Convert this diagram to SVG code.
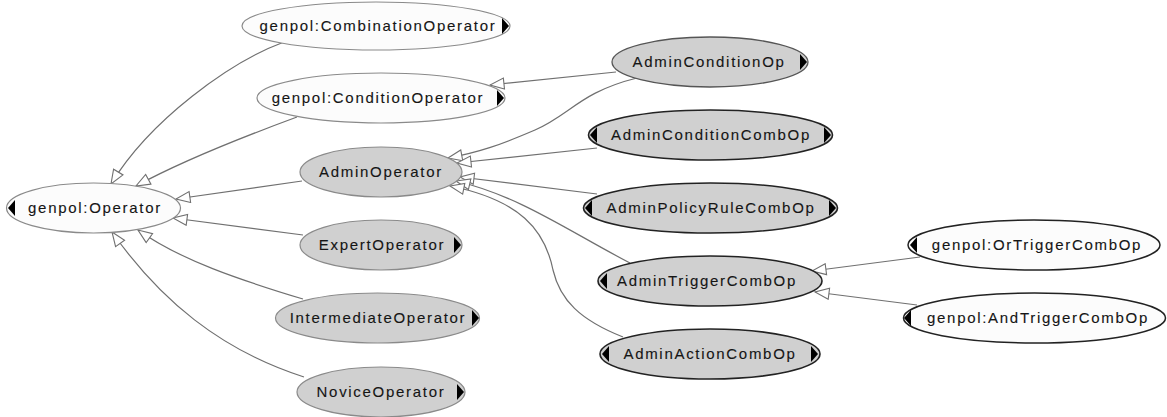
<svg xmlns="http://www.w3.org/2000/svg" width="1167" height="417" viewBox="0 0 1167 417">
<style>
  .lt { fill: #fcfcfc; stroke: #8a8a8a; stroke-width: 1.2; }
  .ltd { fill: #fcfcfc; stroke: #222; stroke-width: 1.5; }
  .gr { fill: #d0d0d0; stroke: #8a8a8a; stroke-width: 1.2; }
  .grm { fill: #d0d0d0; stroke: #555; stroke-width: 1.3; }
  .grd { fill: #d0d0d0; stroke: #222; stroke-width: 1.6; }
  .tri { fill: #000; }
  text { font-family: "Liberation Sans", Arial, sans-serif; font-size: 15px; letter-spacing: 1.7px; fill: #151515; stroke: #151515; stroke-width: 0.12; text-anchor: middle; }
  .edge { fill: none; stroke: #707070; stroke-width: 1.2; marker-end: url(#hollow); }
</style>
<defs>
  <marker id="hollow" markerUnits="userSpaceOnUse" markerWidth="17" markerHeight="13" refX="15" refY="6.5" orient="auto" viewBox="0 0 17 13">
    <path d="M1,1 L15,6.5 L1,12 z" fill="#fff" stroke="#707070" stroke-width="1.1"/>
  </marker>
</defs>
<rect width="1167" height="417" fill="#fff"/>
<g id="connectors">
  <path class="edge" d="M284,42 C 230,62 150,120 111,184"/>
  <path class="edge" d="M297,117 C 240,138 180,162 136,186"/>
  <path class="edge" d="M302,181 L176,199"/>
  <path class="edge" d="M303,235 L173,218"/>
  <path class="edge" d="M303,299 C 240,280 180,260 138,230"/>
  <path class="edge" d="M304,377 C 220,350 160,300 112,232"/>
  <path class="edge" d="M616,72 L490,85"/>
  <path class="edge" d="M637,78 C 580,92 570,115 535,130 S 480,152 448,158"/>
  <path class="edge" d="M597,148 L457,163"/>
  <path class="edge" d="M597,194 L460,177"/>
  <path class="edge" d="M630,263 C 570,232 520,196 456,181"/>
  <path class="edge" d="M623,337 C 580,320 560,300 553,270 C 545,230 520,200 450,186"/>
  <path class="edge" d="M920,257 L812,271"/>
  <path class="edge" d="M917,305 L815,292"/>
</g>
<g id="n-combination">
  <ellipse class="lt" cx="376" cy="26" rx="134" ry="24"/>
  <path class="tri" d="M502,18 L509,26 L502,34 z"/>
  <text x="378" y="31">genpol:CombinationOperator</text>
</g>
<g id="n-condition">
  <ellipse class="lt" cx="381" cy="98" rx="124" ry="25"/>
  <path class="tri" d="M497,90 L504,98 L497,106 z"/>
  <text x="378" y="103">genpol:ConditionOperator</text>
</g>
<g id="n-operator">
  <ellipse class="lt" cx="93.5" cy="208" rx="87" ry="25"/>
  <path class="tri" d="M15,200 L8,208 L15,216 z"/>
  <text x="95" y="213">genpol:Operator</text>
</g>
<g id="n-adminoperator">
  <ellipse class="gr" cx="381" cy="172" rx="81" ry="25"/>
  <text x="381" y="177">AdminOperator</text>
</g>
<g id="n-expert">
  <ellipse class="gr" cx="381" cy="245" rx="81" ry="25"/>
  <path class="tri" d="M454,237 L461,245 L454,253 z"/>
  <text x="382" y="250">ExpertOperator</text>
</g>
<g id="n-intermediate">
  <ellipse class="gr" cx="377.5" cy="318" rx="102" ry="25"/>
  <path class="tri" d="M472,310 L479,318 L472,326 z"/>
  <text x="378" y="323">IntermediateOperator</text>
</g>
<g id="n-novice">
  <ellipse class="gr" cx="381" cy="392" rx="84" ry="25"/>
  <path class="tri" d="M457,384 L464,392 L457,400 z"/>
  <text x="381" y="397">NoviceOperator</text>
</g>
<g id="n-adminconditionop">
  <ellipse class="grm" cx="710" cy="62" rx="98" ry="25"/>
  <path class="tri" d="M800,54 L807,62 L800,70 z"/>
  <text x="709" y="67">AdminConditionOp</text>
</g>
<g id="n-adminconditioncombop">
  <ellipse class="grd" cx="710.5" cy="135" rx="122" ry="25"/>
  <path class="tri" d="M597,127 L590,135 L597,143 z"/>
  <path class="tri" d="M824,127 L831,135 L824,143 z"/>
  <text x="711" y="140">AdminConditionCombOp</text>
</g>
<g id="n-adminpolicyrulecombop">
  <ellipse class="grd" cx="710.5" cy="208" rx="127" ry="25"/>
  <path class="tri" d="M592,200 L585,208 L592,216 z"/>
  <path class="tri" d="M829,200 L836,208 L829,216 z"/>
  <text x="711" y="213">AdminPolicyRuleCombOp</text>
</g>
<g id="n-admintriggercombop">
  <ellipse class="grd" cx="710" cy="281" rx="112" ry="25"/>
  <path class="tri" d="M607,273 L600,281 L607,289 z"/>
  <text x="707" y="286">AdminTriggerCombOp</text>
</g>
<g id="n-adminactioncombop">
  <ellipse class="grd" cx="710" cy="354" rx="110" ry="25"/>
  <path class="tri" d="M609,346 L602,354 L609,362 z"/>
  <path class="tri" d="M811,346 L818,354 L811,362 z"/>
  <text x="710" y="359">AdminActionCombOp</text>
</g>
<g id="n-ortrigger">
  <ellipse class="ltd" cx="1034" cy="245" rx="126" ry="25"/>
  <path class="tri" d="M917,237 L910,245 L917,253 z"/>
  <text x="1037" y="250">genpol:OrTriggerCombOp</text>
</g>
<g id="n-andtrigger">
  <ellipse class="ltd" cx="1034.5" cy="318" rx="131" ry="25"/>
  <path class="tri" d="M911,310 L904,318 L911,326 z"/>
  <text x="1038" y="323">genpol:AndTriggerCombOp</text>
</g>
</svg>
